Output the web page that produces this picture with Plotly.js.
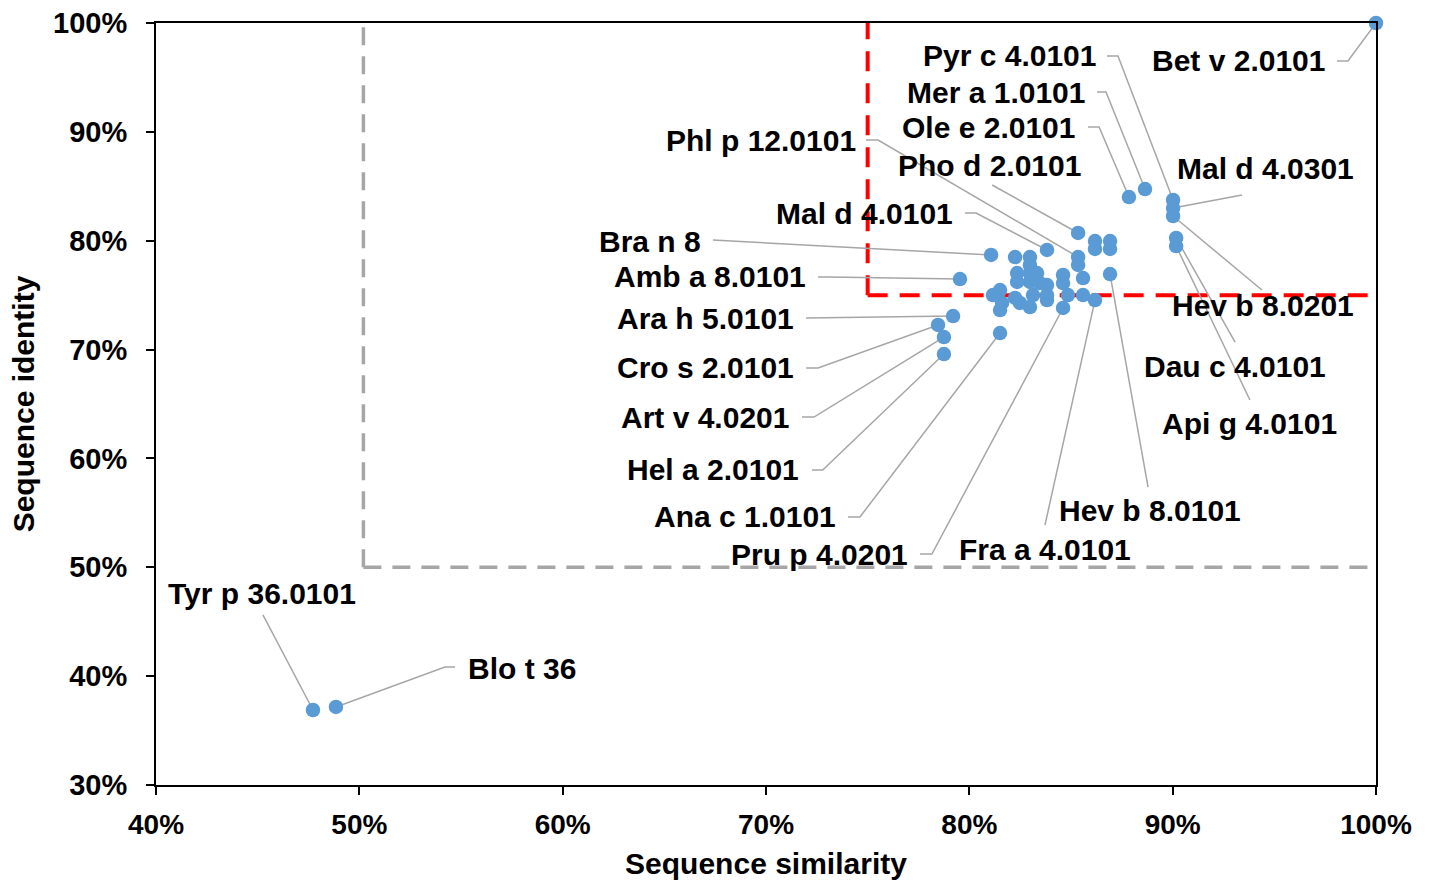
<!DOCTYPE html>
<html>
<head>
<meta charset="utf-8">
<script src="https://cdn.plot.ly/plotly-3.0.1.min.js"></script>
<style>html,body{margin:0;padding:0;background:#fff;}#chart{width:1431px;height:884px;}</style>
</head>
<body>
<div id="chart"></div>
<script>
// ---- Data (sequence similarity %, sequence identity %) ----
const labeledNames = ["Bet v 2.0101","Pyr c 4.0101","Mer a 1.0101","Ole e 2.0101","Phl p 12.0101","Pho d 2.0101",
  "Mal d 4.0101","Bra n 8","Amb a 8.0101","Ara h 5.0101","Cro s 2.0101","Art v 4.0201","Hel a 2.0101",
  "Ana c 1.0101","Pru p 4.0201","Fra a 4.0101","Hev b 8.0101","Mal d 4.0301","Hev b 8.0201",
  "Dau c 4.0101","Api g 4.0101","Tyr p 36.0101","Blo t 36"];
const labeledSimilarity = [100, 90.02, 88.64, 87.85, 85.35, 85.35, 83.82, 81.07, 79.54, 79.20, 78.46, 78.75, 78.75,
  81.51, 84.61, 86.18, 86.92, 90.02, 90.02, 90.17, 90.17, 47.72, 48.85];
const labeledIdentity = [100, 83.74, 84.75, 84.01, 78.50, 80.71, 79.15, 78.69, 76.48, 73.08, 72.26, 71.15, 69.59,
  71.52, 73.82, 74.55, 76.94, 83.00, 82.27, 80.25, 79.51, 36.89, 37.17];

const otherSimilarity = [86.18, 86.18, 86.92, 86.92, 85.35, 85.59, 84.61, 84.61, 83.82, 83.82, 84.85, 85.59,
  82.25, 82.98, 82.35, 82.35, 82.98, 82.98, 82.98, 83.33, 83.47, 81.16, 81.51, 81.61, 81.51, 82.25, 82.49, 82.98, 83.13, 83.82];
const otherIdentity = [79.97, 79.24, 79.97, 79.24, 77.77, 76.57, 76.85, 76.11, 75.93, 75.01, 75.01, 75.01,
  78.50, 78.50, 77.03, 76.21, 77.77, 77.03, 76.21, 77.03, 76.11, 75.01, 75.47, 74.28, 73.63, 74.74, 74.28, 73.91, 75.01, 74.55];

const xTickVals = [40, 50, 60, 70, 80, 90, 100];
const yTickVals = [30, 40, 50, 60, 70, 80, 90, 100];
const grayThreshold = [50.2, 50];   // [similarity, identity]
const redThreshold = [75, 75];

// ---- Label placement (layout only): text anchor, leader start, elbow ----
const labelLayout = {
  "Bet v 2.0101":  {tx: 97.59, ty: 96.51, xa: "right", sx: 98.08, sy: 96.51, ex: 98.62, ey: 96.51},
  "Pyr c 4.0101":  {tx: 86.33, ty: 96.97, xa: "right", sx: 86.77, sy: 96.97, ex: 87.31, ey: 96.97},
  "Mer a 1.0101":  {tx: 85.79, ty: 93.66, xa: "right", sx: 86.28, sy: 93.66, ex: 86.72, ey: 93.66},
  "Ole e 2.0101":  {tx: 85.30, ty: 90.44, xa: "right", sx: 85.84, sy: 90.44, ex: 86.38, ey: 90.44},
  "Phl p 12.0101": {tx: 74.53, ty: 89.25, xa: "right", sx: 74.92, sy: 89.25, ex: 75.51, ey: 89.25},
  "Pho d 2.0101":  {tx: 85.59, ty: 86.95, xa: "right", sx: 81.12, sy: 85.12, ex: 81.12, ey: 85.12},
  "Mal d 4.0101":  {tx: 79.30, ty: 82.54, xa: "right", sx: 79.79, sy: 82.54, ex: 80.33, ey: 82.54},
  "Bra n 8":       {tx: 66.90, ty: 79.97, xa: "right", sx: 67.39, sy: 80.06, ex: 67.39, ey: 80.06},
  "Amb a 8.0101":  {tx: 72.07, ty: 76.67, xa: "right", sx: 72.56, sy: 76.67, ex: 73.05, ey: 76.67},
  "Ara h 5.0101":  {tx: 71.48, ty: 72.90, xa: "right", sx: 71.97, sy: 72.90, ex: 71.97, ey: 72.90},
  "Cro s 2.0101":  {tx: 71.48, ty: 68.31, xa: "right", sx: 71.97, sy: 68.31, ex: 72.56, ey: 68.31},
  "Art v 4.0201":  {tx: 71.23, ty: 63.80, xa: "right", sx: 71.77, sy: 63.80, ex: 72.36, ey: 63.80},
  "Hel a 2.0101":  {tx: 71.72, ty: 58.94, xa: "right", sx: 72.26, sy: 58.94, ex: 72.79, ey: 58.94},
  "Ana c 1.0101":  {tx: 73.54, ty: 54.62, xa: "right", sx: 74.03, sy: 54.62, ex: 74.62, ey: 54.62},
  "Pru p 4.0201":  {tx: 77.08, ty: 51.22, xa: "right", sx: 77.57, sy: 51.22, ex: 78.16, ey: 51.22},
  "Fra a 4.0101":  {tx: 79.39, ty: 51.68, xa: "left",  sx: 83.72, sy: 53.88, ex: 83.72, ey: 53.88},
  "Hev b 8.0101":  {tx: 84.31, ty: 55.26, xa: "left",  sx: 88.79, sy: 57.37, ex: 88.79, ey: 57.37},
  "Mal d 4.0301":  {tx: 90.12, ty: 86.68, xa: "left",  sx: 93.41, sy: 84.20, ex: 93.41, ey: 84.20},
  "Hev b 8.0201":  {tx: 89.87, ty: 74.09, xa: "left",  sx: 94.39, sy: 75.47, ex: 94.39, ey: 75.47},
  "Dau c 4.0101":  {tx: 88.49, ty: 68.49, xa: "left",  sx: 93.07, sy: 70.69, ex: 93.07, ey: 70.69},
  "Api g 4.0101":  {tx: 89.38, ty: 63.25, xa: "left",  sx: 93.80, sy: 65.37, ex: 93.80, ey: 65.37},
  "Tyr p 36.0101": {tx: 40.49, ty: 47.55, xa: "left",  sx: 45.26, sy: 45.62, ex: 45.26, ey: 45.62},
  "Blo t 36":      {tx: 55.25, ty: 40.66, xa: "left",  sx: 54.71, sy: 40.84, ex: 54.21, ey: 40.84}
};

const FONT = "Liberation Sans, Arial, sans-serif";
const pointColor = "#5b9bd5";
const leaderColor = "#a6a6a6";

// leader lines
const lx = [], ly = [];
labeledNames.forEach((n, i) => {
  const L = labelLayout[n];
  lx.push(L.sx, L.ex, labeledSimilarity[i], null);
  ly.push(L.sy, L.ey, labeledIdentity[i], null);
});

const traces = [
  {x: lx, y: ly, mode: "lines", type: "scatter", line: {color: leaderColor, width: 1.5},
   hoverinfo: "skip", showlegend: false, cliponaxis: false},
  {x: otherSimilarity.concat(labeledSimilarity), y: otherIdentity.concat(labeledIdentity),
   text: otherSimilarity.map(() => "").concat(labeledNames),
   mode: "markers", type: "scatter", marker: {color: pointColor, size: 14.5},
   showlegend: false, cliponaxis: false}
];

const annotations = labeledNames.map(n => {
  const L = labelLayout[n];
  return {x: L.tx, y: L.ty, xref: "x", yref: "y", text: n, showarrow: false,
    xanchor: L.xa, yanchor: "middle", font: {family: FONT, size: 30, color: "#000", weight: 700}};
});

const shapes = [
  {type: "line", layer: "below", x0: grayThreshold[0], x1: grayThreshold[0], y0: grayThreshold[1], y1: 100,
   line: {color: "#a6a6a6", width: 3.5, dash: "18px,11px"}},
  {type: "line", layer: "below", x0: grayThreshold[0], x1: 100, y0: grayThreshold[1], y1: grayThreshold[1],
   line: {color: "#a6a6a6", width: 3.5, dash: "18px,11px"}},
  {type: "line", layer: "below", x0: redThreshold[0], x1: redThreshold[0], y0: redThreshold[1], y1: 100,
   line: {color: "#ff0000", width: 4, dash: "20px,12px"}},
  {type: "line", layer: "below", x0: redThreshold[0], x1: 100, y0: redThreshold[1], y1: redThreshold[1],
   line: {color: "#ff0000", width: 4, dash: "20px,12px"}}
];

const axisCommon = {showgrid: false, zeroline: false, showline: true, linecolor: "#000", linewidth: 2,
  mirror: true, ticks: "outside", ticklen: 8, tickwidth: 2, tickcolor: "#000"};

const layout = {
  width: 1431, height: 884,
  margin: {l: 156, r: 55, t: 23, b: 99},
  paper_bgcolor: "#fff", plot_bgcolor: "#fff",
  showlegend: false,
  xaxis: Object.assign({}, axisCommon, {
    range: [40, 100], tickvals: xTickVals, ticktext: xTickVals.map(v => v + "%"),
    tickfont: {family: FONT, size: 28, color: "#000", weight: 700}, ticklabelstandoff: 5,
    title: {text: "Sequence similarity", font: {family: FONT, size: 30, color: "#000", weight: 700}, standoff: 14}
  }),
  yaxis: Object.assign({}, axisCommon, {
    range: [30, 100], tickvals: yTickVals, ticktext: yTickVals.map(v => v + "%"),
    tickfont: {family: FONT, size: 29, color: "#000", weight: 700}, ticklabelstandoff: 13,
    title: {text: "Sequence identity", font: {family: FONT, size: 30, color: "#000", weight: 700}, standoff: 10}
  }),
  shapes: shapes,
  annotations: annotations
};

Plotly.newPlot("chart", traces, layout, {displayModeBar: false, staticPlot: true});
</script>
</body>
</html>
